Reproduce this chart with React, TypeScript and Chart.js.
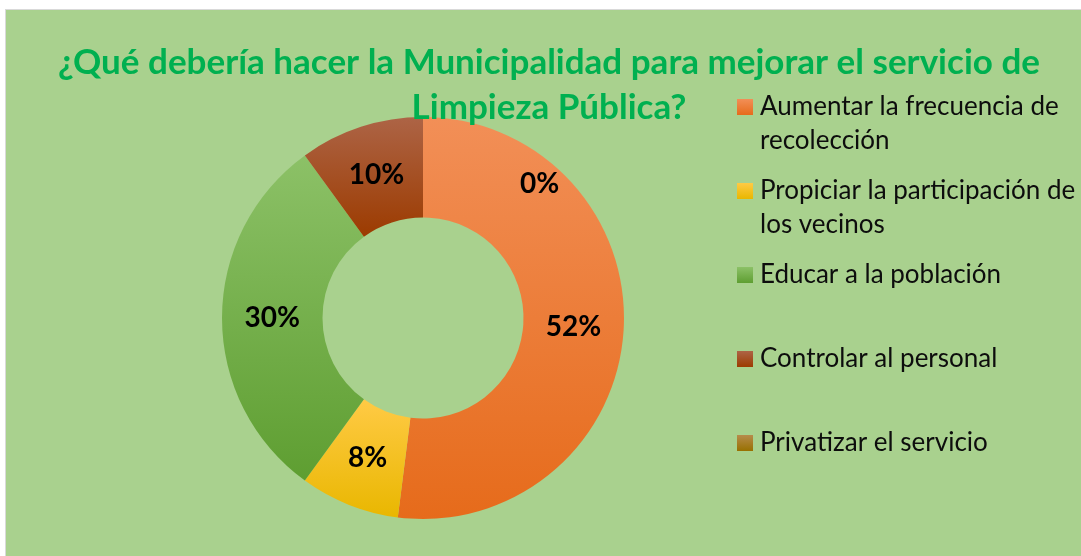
import React, { useEffect, useRef } from "react";
import { Chart, registerables } from "chart.js";

Chart.register(...registerables);

const titleLines = ["¿Qué debería hacer la Municipalidad para mejorar el servicio de", "Limpieza Pública?"];
const categories = [
  "Aumentar la frecuencia de recolección",
  "Propiciar la participación de los vecinos",
  "Educar a la población",
  "Controlar al personal",
  "Privatizar el servicio",
];
const legendLines = [
  ["Aumentar la frecuencia de", "recolección"],
  ["Propiciar la participación de", "los vecinos"],
  ["Educar a la población"],
  ["Controlar al personal"],
  ["Privatizar el servicio"],
];
const values = [52, 8, 30, 10, 0];
const valueLabels = ["52%", "8%", "30%", "10%", "0%"];
const topColors = ["#F28F57", "#FFCA45", "#8CC167", "#AD6446", "#B68B4B"];
const bottomColors = ["#E66B1B", "#E9B700", "#5E9E31", "#9C3B00", "#987000"];

const FONT = "Lato, 'Open Sans', sans-serif";

function sectorYExtent(cy: number, rIn: number, rOut: number, a0: number, a1: number) {
  const ys: number[] = [];
  for (const a of [a0, a1]) {
    ys.push(cy + rIn * Math.sin(a), cy + rOut * Math.sin(a));
  }
  for (let k = -2; k <= 2; k++) {
    const top = -Math.PI / 2 + 2 * Math.PI * k;
    const bot = Math.PI / 2 + 2 * Math.PI * k;
    if (top >= a0 && top <= a1) ys.push(cy - rOut);
    if (bot >= a0 && bot <= a1) ys.push(cy + rOut);
  }
  return [Math.min(...ys), Math.max(...ys)];
}

const overlayPlugin = {
  id: "overlay",
  afterDatasetsDraw(chart: any) {
    const ctx = chart.ctx as CanvasRenderingContext2D;
    ctx.save();
    // title
    ctx.fillStyle = "#00B050";
    ctx.font = `bold 35px ${FONT}`;
    ctx.textAlign = "center";
    ctx.textBaseline = "middle";
    titleLines.forEach((t, i) => ctx.fillText(t, 549, 63 + i * 45));

    // data labels
    const meta = chart.getDatasetMeta(0);
    ctx.fillStyle = "#000000";
    ctx.font = `bold 28px ${FONT}`;
    meta.data.forEach((arc: any, i: number) => {
      let x: number, y: number;
      if (values[i] === 0) {
        const ang = arc.startAngle + (41 * Math.PI) / 180;
        const r = arc.outerRadius * 0.885;
        x = arc.x + r * Math.cos(ang);
        y = arc.y + r * Math.sin(ang);
      } else {
        const p = arc.tooltipPosition();
        x = p.x;
        y = p.y;
      }
      ctx.fillText(valueLabels[i], x, y);
    });

    // legend
    ctx.textAlign = "left";
    ctx.font = `26px ${FONT}`;
    legendLines.forEach((lines, i) => {
      const yc = 107 + i * 84;
      const g = ctx.createLinearGradient(0, yc - 8, 0, yc + 8);
      g.addColorStop(0, topColors[i]);
      g.addColorStop(1, bottomColors[i]);
      ctx.fillStyle = g;
      ctx.fillRect(737, yc - 8, 16, 16);
      ctx.fillStyle = "#0D0D0D";
      lines.forEach((l, j) => ctx.fillText(l, 760, yc + j * 34));
    });
    ctx.restore();
  },
};

export default function App() {
  const ref = useRef<HTMLCanvasElement>(null);
  useEffect(() => {
    if (!ref.current) return;
    const total = values.reduce((a, b) => a + b, 0);
    const chart = new Chart(ref.current, {
      type: "doughnut",
      data: {
        labels: categories,
        datasets: [
          {
            data: values,
            borderWidth: 0,
            backgroundColor: (c: any) => {
              const ca = c.chart.chartArea;
              if (!ca) return topColors[c.dataIndex];
              const cx = (ca.left + ca.right) / 2;
              const cy = (ca.top + ca.bottom) / 2;
              const rOut = Math.min(ca.right - ca.left, ca.bottom - ca.top) / 2;
              const rIn = rOut * 0.5;
              let cum = 0;
              for (let k = 0; k < c.dataIndex; k++) cum += values[k];
              const a0 = -Math.PI / 2 + (cum / total) * 2 * Math.PI;
              const a1 = a0 + (values[c.dataIndex] / total) * 2 * Math.PI;
              const [y0, y1] = sectorYExtent(cy, rIn, rOut, a0, a1);
              const g = c.chart.ctx.createLinearGradient(cx, y0, cx, Math.max(y1, y0 + 1));
              g.addColorStop(0, topColors[c.dataIndex]);
              g.addColorStop(1, bottomColors[c.dataIndex]);
              return g;
            },
          },
        ],
      },
      options: {
        responsive: false,
        animation: false,
        cutout: "50%",
        layout: { padding: { left: 222, right: 457, top: 117, bottom: 37 } },
        plugins: {
          legend: { display: false },
          title: { display: false },
          tooltip: { enabled: false },
        },
      },
      plugins: [overlayPlugin],
    });
    return () => chart.destroy();
  }, []);

  return (
    <div style={{ position: "absolute", left: 0, top: 0, width: 1081, height: 556, background: "#FFFFFF", overflow: "hidden" }}>
      <div
        style={{
          position: "absolute",
          left: 5,
          top: 9,
          width: 1090,
          height: 560,
          background: "#A9D18E",
          border: "1px solid #D9D9D9",
        }}
      />
      <canvas ref={ref} width={1081} height={556} style={{ position: "absolute", left: 0, top: 0 }} />
    </div>
  );
}
